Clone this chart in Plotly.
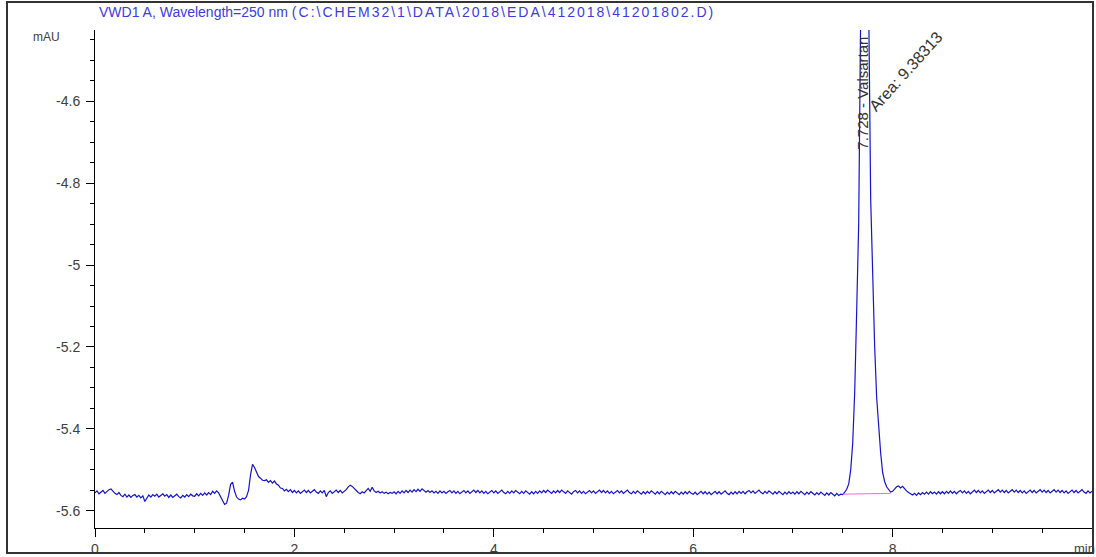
import plotly.graph_objects as go

SAMPLE_START_MIN = 0.0
SAMPLE_STEP_MIN = 0.02
SIGNAL_MAU = [
    # 0.00 - 0.48
    -5.556, -5.551, -5.558, -5.553, -5.550, -5.557, -5.552, -5.548, -5.546, -5.553, -5.557, -5.560, -5.555, -5.562, -5.565, -5.559, -5.566, -5.561, -5.567, -5.562, -5.560, -5.566, -5.562, -5.568, -5.563,
    # 0.50 - 0.98
    -5.577, -5.567, -5.561, -5.566, -5.560, -5.564, -5.559, -5.566, -5.561, -5.558, -5.564, -5.560, -5.567, -5.561, -5.567, -5.562, -5.559, -5.565, -5.568, -5.562, -5.566, -5.560, -5.565, -5.559, -5.563,
    # 1.00 - 1.48
    -5.564, -5.558, -5.563, -5.557, -5.562, -5.556, -5.561, -5.555, -5.560, -5.552, -5.557, -5.551, -5.556, -5.566, -5.578, -5.584, -5.581, -5.562, -5.535, -5.530, -5.552, -5.566, -5.571, -5.573, -5.569,
    # 1.50 - 1.98
    -5.571, -5.565, -5.550, -5.512, -5.486, -5.494, -5.507, -5.516, -5.520, -5.525, -5.526, -5.524, -5.530, -5.526, -5.532, -5.527, -5.534, -5.537, -5.544, -5.545, -5.551, -5.547, -5.553, -5.548, -5.555,
    # 2.00 - 2.48
    -5.550, -5.556, -5.551, -5.557, -5.552, -5.549, -5.555, -5.550, -5.556, -5.551, -5.548, -5.554, -5.557, -5.551, -5.556, -5.550, -5.565, -5.555, -5.551, -5.557, -5.552, -5.549, -5.555, -5.550, -5.556,
    # 2.50 - 2.98
    -5.552, -5.548, -5.541, -5.537, -5.540, -5.545, -5.551, -5.555, -5.558, -5.553, -5.556, -5.549, -5.545, -5.552, -5.542, -5.551, -5.555, -5.552, -5.556, -5.553, -5.557, -5.554, -5.558, -5.555, -5.557,
    # 3.00 - 3.48
    -5.553, -5.558, -5.552, -5.557, -5.551, -5.556, -5.550, -5.555, -5.549, -5.554, -5.548, -5.553, -5.547, -5.552, -5.546, -5.551, -5.554, -5.550, -5.555, -5.551, -5.556, -5.552, -5.557, -5.551, -5.556,
    # 3.50 - 3.98
    -5.552, -5.557, -5.553, -5.550, -5.556, -5.551, -5.557, -5.552, -5.558, -5.553, -5.550, -5.556, -5.551, -5.557, -5.552, -5.549, -5.555, -5.550, -5.556, -5.551, -5.557, -5.552, -5.558, -5.553, -5.550,
    # 4.00 - 4.48
    -5.556, -5.551, -5.557, -5.552, -5.549, -5.555, -5.558, -5.552, -5.557, -5.551, -5.556, -5.550, -5.555, -5.558, -5.552, -5.557, -5.551, -5.556, -5.559, -5.553, -5.558, -5.552, -5.557, -5.551, -5.556,
    # 4.50 - 4.98
    -5.550, -5.555, -5.549, -5.554, -5.557, -5.551, -5.556, -5.550, -5.555, -5.549, -5.554, -5.557, -5.551, -5.556, -5.559, -5.553, -5.550, -5.556, -5.551, -5.557, -5.552, -5.558, -5.553, -5.550, -5.556,
    # 5.00 - 5.48
    -5.551, -5.557, -5.552, -5.549, -5.555, -5.550, -5.556, -5.551, -5.557, -5.552, -5.558, -5.553, -5.550, -5.556, -5.551, -5.557, -5.552, -5.549, -5.555, -5.558, -5.552, -5.557, -5.551, -5.556, -5.559,
    # 5.50 - 5.98
    -5.553, -5.558, -5.552, -5.557, -5.551, -5.556, -5.559, -5.553, -5.558, -5.552, -5.557, -5.560, -5.554, -5.559, -5.553, -5.558, -5.552, -5.557, -5.560, -5.554, -5.559, -5.553, -5.558, -5.552, -5.557,
    # 6.00 - 6.48
    -5.559, -5.554, -5.560, -5.555, -5.552, -5.558, -5.553, -5.559, -5.554, -5.560, -5.555, -5.552, -5.558, -5.553, -5.559, -5.554, -5.551, -5.557, -5.560, -5.554, -5.559, -5.553, -5.558, -5.552, -5.557,
    # 6.50 - 6.98
    -5.552, -5.558, -5.553, -5.550, -5.556, -5.551, -5.557, -5.552, -5.549, -5.555, -5.558, -5.552, -5.557, -5.551, -5.556, -5.559, -5.553, -5.558, -5.552, -5.557, -5.560, -5.554, -5.559, -5.553, -5.558,
    # 7.00 - 7.48
    -5.554, -5.559, -5.553, -5.558, -5.552, -5.557, -5.560, -5.554, -5.559, -5.553, -5.558, -5.561, -5.555, -5.560, -5.554, -5.559, -5.562, -5.556, -5.561, -5.555, -5.560, -5.563, -5.557, -5.562, -5.559,
    # 7.50 - 7.98  (Valsartan peak, apex 7.728 min, off-scale at top)
    -5.560, -5.554, -5.547, -5.534, -5.499, -5.434, -5.309, -5.109, -4.899, -4.379, -4.319, -4.289, -4.309, -4.359, -4.838, -5.028, -5.198, -5.323, -5.403, -5.458, -5.506, -5.528, -5.541, -5.549, -5.554,
    # 8.00 - 8.48
    -5.552, -5.545, -5.541, -5.539, -5.544, -5.540, -5.546, -5.551, -5.555, -5.558, -5.561, -5.557, -5.562, -5.556, -5.560, -5.555, -5.559, -5.554, -5.559, -5.553, -5.558, -5.554, -5.559, -5.553, -5.558,
    # 8.50 - 8.98
    -5.553, -5.558, -5.552, -5.557, -5.551, -5.557, -5.552, -5.558, -5.553, -5.550, -5.556, -5.551, -5.557, -5.552, -5.558, -5.553, -5.549, -5.555, -5.550, -5.556, -5.551, -5.557, -5.552, -5.549, -5.555,
    # 9.00 - 9.48
    -5.550, -5.556, -5.551, -5.548, -5.554, -5.549, -5.555, -5.550, -5.556, -5.551, -5.548, -5.554, -5.549, -5.555, -5.550, -5.556, -5.551, -5.557, -5.552, -5.549, -5.555, -5.550, -5.556, -5.551, -5.548,
    # 9.50 - 9.98
    -5.554, -5.549, -5.555, -5.550, -5.556, -5.551, -5.548, -5.554, -5.549, -5.555, -5.550, -5.556, -5.551, -5.557, -5.552, -5.549, -5.555, -5.550, -5.556, -5.551, -5.548, -5.554, -5.557, -5.551, -5.556,
    # 10.00
    -5.552,
]
TIME_MIN = [round(SAMPLE_START_MIN + i * SAMPLE_STEP_MIN, 4) for i in range(len(SIGNAL_MAU))]

# integration baseline drawn under the peak
PEAK_BASELINE_T = [7.50, 7.98]
PEAK_BASELINE_Y = [-5.559, -5.557]

PEAK_RT = "7.728"
PEAK_NAME = "Valsartan"
PEAK_AREA = "9.38313"

TITLE_PREFIX = "VWD1 A, Wavelength=250 nm "
TITLE_PATH = "(C:\\CHEM32\\1\\DATA\\2018\\EDA\\412018\\41201802.D)"

X_TICKS = [0, 2, 4, 6, 8]
X_TICK_TEXT = ["0", "2", "4", "6", "8"]
Y_TICKS = [-5.6, -5.4, -5.2, -5.0, -4.8, -4.6]
Y_TICK_TEXT = ["-5.6", "-5.4", "-5.2", "-5", "-4.8", "-4.6"]

X_RANGE = [0, 10]
Y_RANGE = [-5.6415, -4.4268]

FONT = "Liberation Sans, Arial, sans-serif"
TRACE_COLOR = "#1414cc"
TEXT_GRAY = "#404040"

# the original printout sets the file path more loosely than the rest
title_text = TITLE_PREFIX + '<span style="letter-spacing:2px">' + TITLE_PATH + "</span>"

fig = go.Figure()
fig.add_trace(go.Scatter(
    x=TIME_MIN, y=SIGNAL_MAU, mode="lines",
    line=dict(color=TRACE_COLOR, width=1.2), hoverinfo="skip", showlegend=False,
))
fig.add_trace(go.Scatter(
    x=PEAK_BASELINE_T, y=PEAK_BASELINE_Y, mode="lines",
    line=dict(color="#f070c0", width=1), hoverinfo="skip", showlegend=False,
))

W, H = 1096, 557
ML, MR, MT, MB = 95, 4, 30, 29
pw = W - ML - MR
ph = H - MT - MB


def px(xp):
    return (xp - ML) / pw


def py(yp):
    return (H - MB - yp) / ph


fig.update_layout(
    width=W, height=H,
    margin=dict(l=ML, r=MR, t=MT, b=MB, pad=0),
    paper_bgcolor="white", plot_bgcolor="white",
    font=dict(family=FONT, size=14, color=TEXT_GRAY),
    showlegend=False,
    xaxis=dict(
        range=X_RANGE, showgrid=False, zeroline=False, automargin=False,
        showline=True, linecolor="black", linewidth=1,
        tickmode="array", tickvals=X_TICKS, ticktext=X_TICK_TEXT,
        ticks="outside", ticklen=8, tickwidth=1, tickcolor="black",
        tickfont=dict(family=FONT, size=14, color=TEXT_GRAY),
        minor=dict(tickmode="linear", tick0=0, dtick=0.5, ticks="outside",
                   ticklen=4, tickwidth=1, tickcolor="black", showgrid=False),
    ),
    yaxis=dict(
        range=Y_RANGE, showgrid=False, zeroline=False, automargin=False,
        showline=True, linecolor="black", linewidth=1,
        tickmode="array", tickvals=Y_TICKS, ticktext=Y_TICK_TEXT,
        ticks="outside", ticklen=8, tickwidth=1, tickcolor="black",
        ticklabelstandoff=3,
        tickfont=dict(family=FONT, size=14, color=TEXT_GRAY),
        minor=dict(tickmode="linear", tick0=-5.6, dtick=0.05, ticks="outside",
                   ticklen=4, tickwidth=1, tickcolor="black", showgrid=False),
    ),
    shapes=[
        dict(type="rect", xref="paper", yref="paper",
             x0=px(7), x1=px(1093), y0=py(553), y1=py(2),
             line=dict(color="#333333", width=2), fillcolor="rgba(0,0,0,0)", layer="above"),
    ],
    annotations=[
        dict(text=title_text, xref="paper", yref="paper", x=px(97), y=py(12),
             xanchor="left", yanchor="middle", showarrow=False,
             font=dict(family=FONT, size=14, color="#3c3cdc")),
        dict(text="mAU", xref="paper", yref="paper", x=px(46), y=py(37),
             xanchor="center", yanchor="middle", showarrow=False,
             font=dict(family=FONT, size=12, color=TEXT_GRAY)),
        dict(text="min", xref="paper", yref="paper", x=px(1072), y=py(548),
             xanchor="left", yanchor="middle", showarrow=False,
             font=dict(family=FONT, size=13, color=TEXT_GRAY)),
        dict(text=f"{PEAK_RT} - {PEAK_NAME}", xref="x", yref="paper",
             x=7.69, y=py(93), xanchor="center", yanchor="middle",
             textangle=-90, showarrow=False,
             font=dict(family=FONT, size=15, color="#333333")),
        dict(text=f"Area: {PEAK_AREA}", xref="x", yref="paper",
             x=8.13, y=py(71), xanchor="center", yanchor="middle",
             textangle=-48, showarrow=False,
             font=dict(family=FONT, size=16, color="#333333")),
    ],
)

fig.write_html(
    "out.html",
    config={"displayModeBar": False},
    post_script="document.body.style.margin='0';document.body.style.overflow='hidden';",
)
